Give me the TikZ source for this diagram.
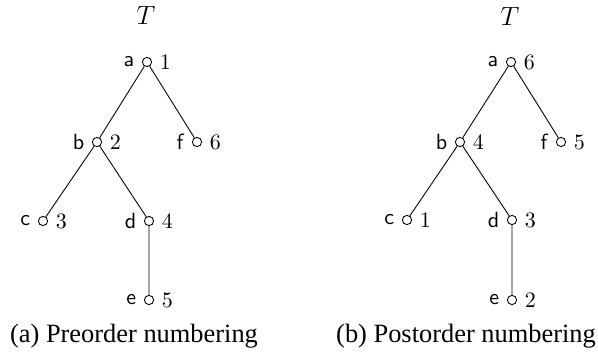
\documentclass[tikz,border=0pt]{standalone}
\usepackage{fontspec}
\newfontfamily\capfont{Liberation Serif}
\begin{document}
\begin{tikzpicture}[x=0.4545pt,y=-0.4545pt,
  vtx/.style={circle,draw,inner sep=0pt,minimum size=4.2pt},
  edge/.style={line width=0.4pt},
  tname/.style={font=\large},
  caption/.style={anchor=base,font=\capfont\fontsize{12}{14}\selectfont}]
\useasboundingbox (0,0) rectangle (598,354);

% (a) preorder
\node[tname] (T1) at (146,15) {$T$};
\node[vtx,label={left:\textsf{a}},label={right:1}] (a1) at (147,62) {};
\node[vtx,label={left:\textsf{b}},label={right:2}] (b1) at (97,142) {};
\node[vtx,label={left:\textsf{f}},label={right:6}] (f1) at (197,142) {};
\node[vtx,label={left:\textsf{c}},label={right:3}] (c1) at (43,221) {};
\node[vtx,label={left:\textsf{d}},label={right:4}] (d1) at (149,221) {};
\node[vtx,label={left:\textsf{e}},label={right:5}] (e1) at (149,300) {};
\draw[edge] (a1) -- (b1) (a1) -- (f1) (b1) -- (c1) (b1) -- (d1) (d1) -- (e1);
\node[caption] (cap1) at (134,342) {(a) Preorder numbering};

% (b) postorder
\node[tname] (T2) at (510,16) {$T$};
\node[vtx,label={left:\textsf{a}},label={right:6}] (a2) at (511,62) {};
\node[vtx,label={left:\textsf{b}},label={right:4}] (b2) at (460,142) {};
\node[vtx,label={left:\textsf{f}},label={right:5}] (f2) at (561,142) {};
\node[vtx,label={left:\textsf{c}},label={right:1}] (c2) at (407,220) {};
\node[vtx,label={left:\textsf{d}},label={right:3}] (d2) at (512,220) {};
\node[vtx,label={left:\textsf{e}},label={right:2}] (e2) at (512,300) {};
\draw[edge] (a2) -- (b2) (a2) -- (f2) (b2) -- (c2) (b2) -- (d2) (d2) -- (e2);
\node[caption] (cap2) at (466,342) {(b) Postorder numbering};
\end{tikzpicture}
\end{document}
